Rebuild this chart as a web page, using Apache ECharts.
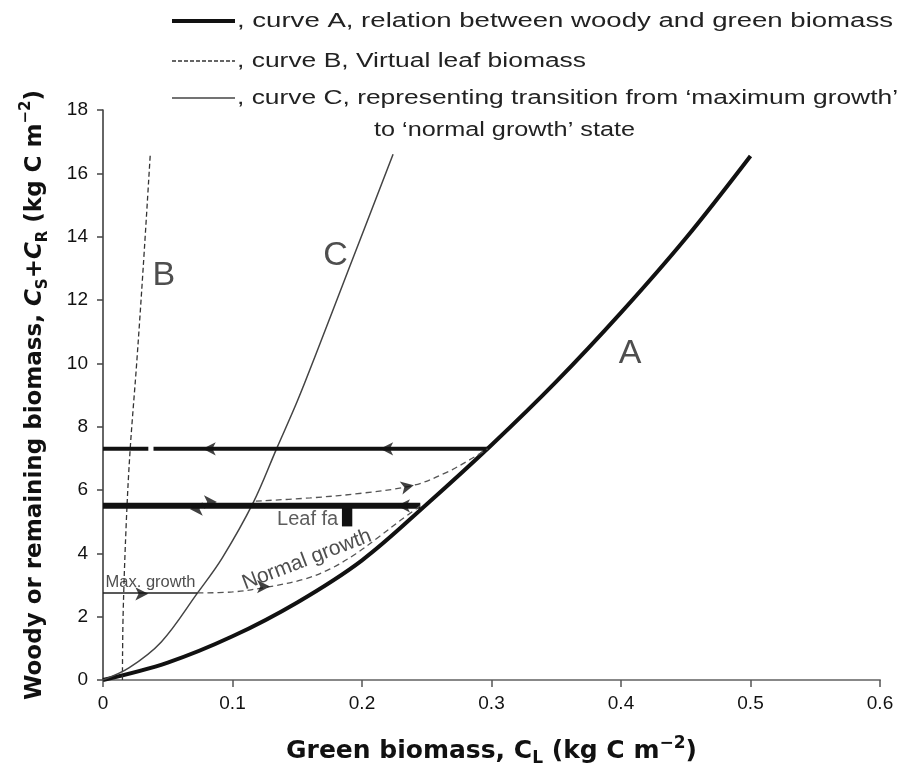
<!DOCTYPE html>
<html>
<head>
<meta charset="utf-8">
<title>Woody vs green biomass</title>
<script src="https://cdn.jsdelivr.net/npm/echarts@6/dist/echarts.min.js"></script>
<style>
  html, body { margin: 0; padding: 0; background: #fff; }
  #chart { width: 901px; height: 776px; }
</style>
</head>
<body>
<div id="chart"></div>
<script>
// ---- data (green biomass C_L, woody biomass C_S+C_R), kg C m^-2 ----
const xTickLabels = ['0', '0.1', '0.2', '0.3', '0.4', '0.5', '0.6'];
const yTickLabels = ['0', '2', '4', '6', '8', '10', '12', '14', '16', '18'];

// curve A: relation between woody and green biomass
const curveA = [[0, 0], [0.05, 0.55], [0.1, 1.38], [0.15, 2.45], [0.2, 3.78], [0.25, 5.55],
                [0.3, 7.42], [0.35, 9.42], [0.4, 11.6], [0.45, 13.95], [0.5, 16.55]];
// curve B: virtual leaf biomass
const curveB = [[0.015, 0], [0.0155, 2], [0.018, 5], [0.021, 7.3], [0.026, 10], [0.031, 13], [0.0365, 16.6]];
// curve C: transition from maximum growth to normal growth
const curveC = [[0, 0], [0.02, 0.38], [0.045, 1.2], [0.073, 2.75], [0.092, 3.85], [0.116, 5.6],
                [0.134, 7.3], [0.15, 8.8], [0.165, 10.35], [0.19, 13.0], [0.224, 16.6]];

// trajectories
const returnLineLeft = [[0, 7.3], [0.035, 7.3]];
const returnLineRight = [[0.039, 7.3], [0.297, 7.3]];
const leafFallLine = [[0, 5.5], [0.245, 5.5]];
const maxGrowthLine = [[0, 2.75], [0.073, 2.75]];
const normalGrowthPath = [[0.073, 2.75], [0.1, 2.78], [0.129, 2.95], [0.155, 3.18], [0.175, 3.5],
                          [0.195, 3.98], [0.214, 4.55], [0.23, 5.05], [0.245, 5.5]];
const regrowthPath = [[0.118, 5.65], [0.16, 5.75], [0.2, 5.9], [0.24, 6.15], [0.265, 6.55],
                      [0.283, 6.95], [0.297, 7.3]];

// direction markers on the trajectories: [x, y, heading]
const arrowMarks = [
  [0.077, 7.3, 'left'], [0.214, 7.3, 'left'],
  [0.088, 5.62, 'right'], [0.067, 5.4, 'left'], [0.227, 5.5, 'left'],
  [0.035, 2.72, 'right'], [0.129, 2.95, 'right'], [0.24, 6.15, 'upright']
];

// leaf fall marker block [x0, y0, x1, y1]
const leafFallBlock = [0.1845, 5.45, 0.1925, 4.85];

// text annotations: [x, y, text]
const curveLetters = [[0.407, 10.3, 'A'], [0.047, 12.76, 'B'], [0.1795, 13.4, 'C']];
const maxGrowthNote = [0.002, 3.08, 'Max. growth'];
const normalGrowthNote = [0.1575, 3.8, 'Normal growth'];
const leafFallNote = [0.1344, 5.08, 'Leaf fa'];

const legendTexts = [
  ', curve A, relation between woody and green biomass',
  ', curve B, Virtual leaf biomass',
  ', curve C, representing transition from \u2018maximum growth\u2019',
  'to \u2018normal growth\u2019 state'
];
// legend rows: [left, middle y, right edge]
const legendBoxes = [[237, 21, 893], [237, 61, 586], [237, 98, 898], [374, 130, 635]];

const headingRotation = { left: 90, right: -90, upright: -78 };
const FONT = '"Liberation Sans", Arial, Helvetica, sans-serif';
const TITLE_FONT = '"DejaVu Sans", Verdana, sans-serif';
const LEGEND_FONT_SIZE = 20;

const chart = echarts.init(document.getElementById('chart'), null, { renderer: 'canvas' });

// horizontal stretch so each legend row spans its box
const measureCtx = document.createElement('canvas').getContext('2d');
function stretchFor(text, width) {
  measureCtx.font = LEGEND_FONT_SIZE + 'px ' + FONT;
  return width / measureCtx.measureText(text).width;
}

function line(name, data, width, color, type, smooth) {
  return {
    name, type: 'line', data, smooth: smooth ? 0.35 : false, showSymbol: false, symbol: 'none',
    lineStyle: { width, color, type: type || 'solid', cap: 'butt' },
    silent: true, z: 3
  };
}

function textMark(item, style) {
  return {
    value: [item[0], item[1]],
    label: Object.assign({ show: true, formatter: item[2], position: 'inside', color: '#222' }, style)
  };
}

const graphic = [
  { type: 'line', shape: { x1: 172, y1: legendBoxes[0][1], x2: 235, y2: legendBoxes[0][1] },
    style: { stroke: '#111', lineWidth: 4 } },
  { type: 'line', shape: { x1: 172, y1: legendBoxes[1][1], x2: 235, y2: legendBoxes[1][1] },
    style: { stroke: '#333', lineWidth: 1.3, lineDash: [4, 2] } },
  { type: 'line', shape: { x1: 172, y1: legendBoxes[2][1], x2: 235, y2: legendBoxes[2][1] },
    style: { stroke: '#444', lineWidth: 1.5 } }
];
legendBoxes.forEach((box, i) => {
  graphic.push({
    type: 'text', x: box[0], y: box[1], scaleX: stretchFor(legendTexts[i], box[2] - box[0]),
    style: { text: legendTexts[i], font: LEGEND_FONT_SIZE + 'px ' + FONT, fill: '#222', verticalAlign: 'middle' }
  });
});

const option = {
  animation: false,
  backgroundColor: '#fff',
  grid: { left: 103, right: 21, top: 110, bottom: 96, containLabel: false },
  xAxis: {
    type: 'value', min: 0, max: 0.6, interval: 0.1,
    name: 'Green biomass, C{sub|L} (kg C m{sup|\u22122})',
    nameLocation: 'middle', nameGap: 55,
    nameTextStyle: {
      fontFamily: TITLE_FONT, fontWeight: 'bold', fontSize: 25, color: '#111', lineHeight: 32,
      rich: {
        sub: { fontFamily: TITLE_FONT, fontWeight: 'bold', fontSize: 17, verticalAlign: 'bottom', lineHeight: 18 },
        sup: { fontFamily: TITLE_FONT, fontWeight: 'bold', fontSize: 17, verticalAlign: 'top', lineHeight: 18 }
      }
    },
    axisLine: { show: true, onZero: false, lineStyle: { color: '#888', width: 2 } },
    axisTick: { show: true, inside: false, length: 7, lineStyle: { color: '#555', width: 1.5 } },
    axisLabel: {
      fontFamily: FONT, fontSize: 19, color: '#111', margin: 14,
      formatter: v => xTickLabels[Math.round(v * 10)]
    },
    splitLine: { show: false }
  },
  yAxis: {
    type: 'value', min: 0, max: 18, interval: 2,
    name: 'Woody or remaining biomass, {i|C}{isub|S}+{i|C}{isub|R} (kg C m{sup|\u22122})',
    nameLocation: 'middle', nameGap: 52, nameRotate: 90,
    nameTextStyle: {
      fontFamily: TITLE_FONT, fontWeight: 'bold', fontSize: 23, color: '#111', lineHeight: 32,
      rich: {
        i: { fontFamily: TITLE_FONT, fontWeight: 'bold', fontStyle: 'italic', fontSize: 23 },
        isub: { fontFamily: TITLE_FONT, fontWeight: 'bold', fontSize: 15, verticalAlign: 'bottom', lineHeight: 18 },
        sup: { fontFamily: TITLE_FONT, fontWeight: 'bold', fontSize: 15, verticalAlign: 'top', lineHeight: 18 }
      }
    },
    axisLine: { show: true, onZero: false, lineStyle: { color: '#333', width: 1.5 } },
    axisTick: { show: true, inside: false, length: 6, lineStyle: { color: '#444', width: 1.5 } },
    axisLabel: {
      fontFamily: FONT, fontSize: 19, color: '#111', margin: 15,
      formatter: v => yTickLabels[Math.round(v / 2)]
    },
    splitLine: { show: false }
  },
  graphic,
  series: [
    line('curve A', curveA, 4, '#111', 'solid', true),
    line('curve B', curveB, 1.3, '#333', [5, 3], true),
    line('curve C', curveC, 1.5, '#444', 'solid', true),
    line('return left', returnLineLeft, 4, '#111'),
    line('return right', returnLineRight, 4, '#111'),
    Object.assign(line('leaf fall', leafFallLine, 6, '#111'), {
      markArea: {
        silent: true,
        itemStyle: { color: '#111', opacity: 1 },
        data: [[{ coord: [leafFallBlock[0], leafFallBlock[1]] }, { coord: [leafFallBlock[2], leafFallBlock[3]] }]]
      }
    }),
    line('max growth', maxGrowthLine, 1.5, '#222'),
    line('normal growth', normalGrowthPath, 1.3, '#555', [6, 4], true),
    line('regrowth', regrowthPath, 1.3, '#555', [6, 4], true),
    {
      name: 'arrows', type: 'scatter', silent: true, z: 5,
      symbol: 'arrow', symbolSize: [10, 13],
      symbolRotate: (v) => headingRotation[v[2]],
      itemStyle: { color: '#111' },
      data: arrowMarks
    },
    {
      name: 'notes', type: 'scatter', silent: true, z: 6, symbolSize: 0,
      data: [
        ...curveLetters.map(t => textMark(t, { fontFamily: FONT, fontSize: 34, align: 'center', verticalAlign: 'middle' })),
        textMark(maxGrowthNote, { fontFamily: FONT, fontSize: 16.5, align: 'left', verticalAlign: 'middle' }),
        textMark(normalGrowthNote, { fontFamily: FONT, fontSize: 21, align: 'center', verticalAlign: 'middle', rotate: 21 }),
        textMark(leafFallNote, { fontFamily: FONT, fontSize: 20, align: 'left', verticalAlign: 'middle', color: '#333' })
      ]
    }
  ]
};

chart.setOption(option);
</script>
</body>
</html>
